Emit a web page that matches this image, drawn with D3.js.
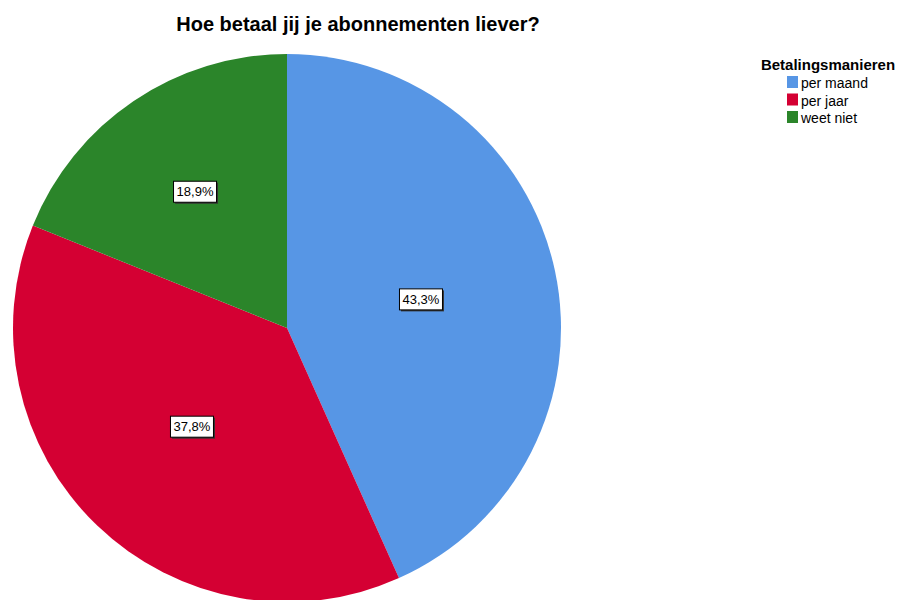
<!DOCTYPE html>
<html><head><meta charset="utf-8">
<script src="https://cdn.jsdelivr.net/npm/d3@7"></script>
<style>body{margin:0;background:#fff}svg{display:block}</style>
</head><body>
<svg id="c" width="898" height="600"></svg>
<script>
const categories = ["per maand", "per jaar", "weet niet"];
const values = [43.3, 37.8, 18.9];
const labels = ["43,3%", "37,8%", "18,9%"];
const colors = ["#5796e5", "#d40033", "#2b852a"];
const labelRadius = [0.5, 0.5, 0.6];
const title = "Hoe betaal jij je abonnementen liever?";
const legendTitle = "Betalingsmanieren";

const svg = d3.select("#c");
const font = "'Liberation Sans', Arial, sans-serif";
const cx = 287, cy = 328, R = 274;

svg.append("text").attr("x", 358).attr("y", 31).attr("text-anchor", "middle")
  .attr("font-family", font).attr("font-size", 20).attr("font-weight", "bold").text(title);

const pie = d3.pie().sort(null).value(d => d)(values);
const arc = d3.arc().innerRadius(0).outerRadius(R);
const g = svg.append("g").attr("transform", `translate(${cx},${cy})`);
g.selectAll("path").data(pie).join("path").attr("d", arc).attr("fill", (d, i) => colors[i]);

pie.forEach((d, i) => {
  const r = R * labelRadius[i];
  const c = d3.arc().innerRadius(r).outerRadius(r).centroid(d);
  const lg = g.append("g").attr("transform", `translate(${c[0]},${c[1]})`);
  const w = 43, h = 21;
  lg.append("rect").attr("x", -w / 2 + 1.5).attr("y", -h / 2 + 1.5).attr("width", w).attr("height", h).attr("fill", "#333");
  lg.append("rect").attr("x", -w / 2).attr("y", -h / 2).attr("width", w).attr("height", h)
    .attr("fill", "#fff").attr("stroke", "#000").attr("stroke-width", 1);
  lg.append("text").attr("text-anchor", "middle").attr("dy", "0.36em")
    .attr("font-family", font).attr("font-size", 13).text(labels[i]);
});

const leg = svg.append("g");
leg.append("text").attr("x", 828).attr("y", 70).attr("text-anchor", "middle")
  .attr("font-family", font).attr("font-size", 15).attr("font-weight", "bold").text(legendTitle);
categories.forEach((c, i) => {
  const y = 76 + i * 17.5;
  leg.append("rect").attr("x", 787).attr("y", y).attr("width", 11).attr("height", 12).attr("fill", colors[i]);
  leg.append("text").attr("x", 801).attr("y", y + 12).attr("font-family", font).attr("font-size", 14).text(c);
});
</script>
</body></html>
